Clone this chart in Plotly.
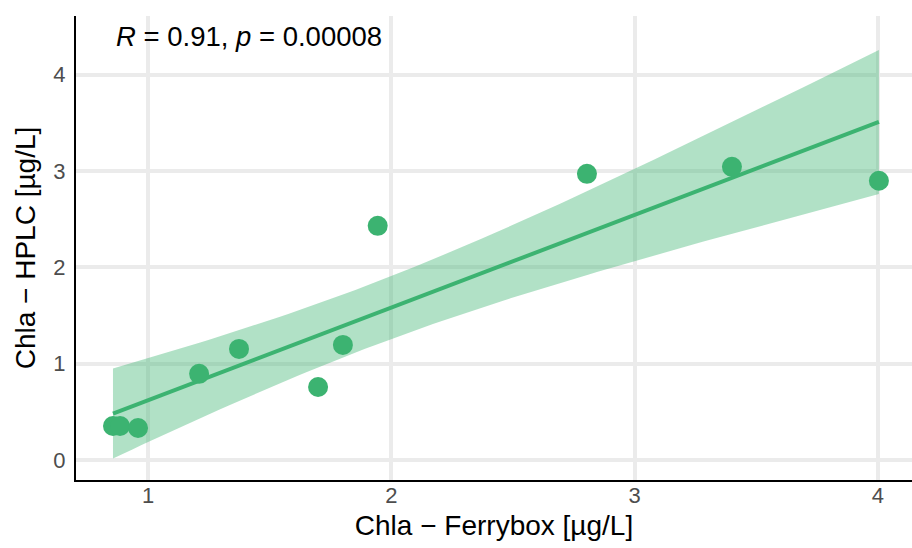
import numpy as np
import plotly.graph_objects as go

# Data
ferrybox = [0.856, 0.885, 0.959, 1.210, 1.374, 1.699, 1.801, 1.944, 2.804, 3.400, 4.004]
hplc = [0.353, 0.353, 0.332, 0.894, 1.153, 0.758, 1.195, 2.431, 2.971, 3.044, 2.899]
x_ticks = [1, 2, 3, 4]
y_ticks = [0, 1, 2, 3, 4]

x = np.array(ferrybox)
y = np.array(hplc)
n = len(x)
b1, b0 = np.polyfit(x, y, 1)
xs = np.linspace(x.min(), x.max(), 80)
ys = b0 + b1 * xs
resid = y - (b0 + b1 * x)
s = np.sqrt(np.sum(resid ** 2) / (n - 2))
sxx = np.sum((x - x.mean()) ** 2)
t = 2.262157  # t(0.975, df=9)
se = s * np.sqrt(1 / n + (xs - x.mean()) ** 2 / sxx)
upper = ys + t * se
lower = ys - t * se

green = "#3CB371"
fig = go.Figure()
fig.add_trace(go.Scatter(
    x=np.concatenate([xs, xs[::-1]]), y=np.concatenate([upper, lower[::-1]]),
    fill="toself", fillcolor="rgba(60,179,113,0.4)", line=dict(width=0),
    mode="lines", hoverinfo="skip", showlegend=False))
fig.add_trace(go.Scatter(x=xs, y=ys, mode="lines", line=dict(color=green, width=4),
                         showlegend=False))
fig.add_trace(go.Scatter(x=ferrybox, y=hplc, mode="markers",
                         marker=dict(color=green, size=20, line=dict(width=0)),
                         showlegend=False))

fig.add_annotation(x=0.045, y=0.993, xref="paper", yref="paper", xanchor="left", yanchor="top",
                   text="<i>R</i> = 0.91, <i>p</i> = 0.00008", showarrow=False,
                   font=dict(size=27.5, color="black", family="Liberation Sans, Arial, sans-serif"))

tick_font = dict(size=22, color="#4D4D4D", family="Liberation Sans, Arial, sans-serif")
axis_common = dict(showline=True, linecolor="black", linewidth=2, showgrid=True,
                   gridcolor="#EBEBEB", gridwidth=3.5, zeroline=False, ticks="",
                   mirror=False)
fig.update_xaxes(range=[0.704, 4.14], tickvals=x_ticks, ticklabelstandoff=-5, tickfont=tick_font,
                 title=dict(text="Chla − Ferrybox [µg/L]", font=dict(size=28, color="black"), standoff=8),
                 **axis_common)
fig.update_yaxes(range=[-0.208, 4.61], tickvals=y_ticks, ticklabelstandoff=4, tickfont=tick_font,
                 title=dict(text="Chla − HPLC [µg/L]", font=dict(size=28, color="black"), standoff=10),
                 **axis_common)
fig.update_layout(width=912, height=548, margin=dict(l=76, r=0, t=16, b=68),
                  plot_bgcolor="white", paper_bgcolor="white",
                  font=dict(family="Liberation Sans, Arial, sans-serif"))
fig.write_html("out.html")
